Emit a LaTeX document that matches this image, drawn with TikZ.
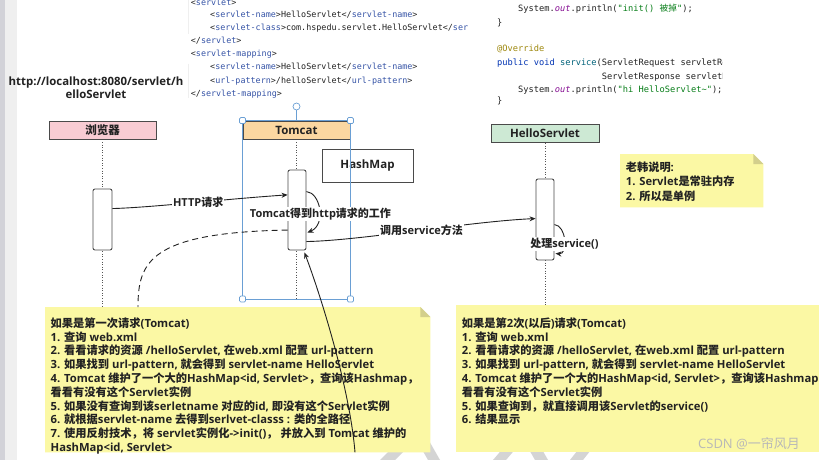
\documentclass[tikz,border=0pt]{standalone}
\usepackage{fontspec}
\setmainfont{Open Sans}
\setmonofont{DejaVu Sans Mono}
\newfontfamily\cjkfont{Noto Sans CJK SC}
\usetikzlibrary{arrows.meta}
% route CJK characters to the CJK font
\newXeTeXintercharclass\mycjkcls
\newcount\mycjkcnt
\def\setcjkrange#1#2{\mycjkcnt=#1\relax\loop\XeTeXcharclass\mycjkcnt=\mycjkcls\relax\ifnum\mycjkcnt<#2\advance\mycjkcnt by 1\repeat}
\setcjkrange{"4E00}{"9FFF}
\setcjkrange{"3000}{"303F}
\setcjkrange{"FF00}{"FFEF}
\makeatletter
\XeTeXinterchartoks 0 \mycjkcls = {\begingroup\cjkfont}
\XeTeXinterchartoks \mycjkcls 0 = {\endgroup}
\XeTeXinterchartoks \e@alloc@intercharclass@top \mycjkcls = {\begingroup\cjkfont}
\XeTeXinterchartoks \mycjkcls \e@alloc@intercharclass@top = {\endgroup}
\makeatother
\XeTeXinterchartokenstate=1

\definecolor{txt}{HTML}{222222}
\definecolor{edgec}{HTML}{4A4A4A}
\definecolor{lifec}{HTML}{555555}
\definecolor{pinkc}{HTML}{F8CCD3}
\definecolor{orangec}{HTML}{FBD7A1}
\definecolor{greenc}{HTML}{CDE9D4}
\definecolor{selc}{HTML}{6A9FD4}
\definecolor{notec}{HTML}{FBF8A4}
\definecolor{foldc}{HTML}{D3CF8C}
\definecolor{tagc}{HTML}{3553A6}
\definecolor{kwc}{HTML}{0033B3}
\definecolor{fnc}{HTML}{00627A}
\definecolor{outc}{HTML}{871094}
\definecolor{strc}{HTML}{067D17}
\definecolor{annc}{HTML}{9E880D}
\definecolor{wmc}{HTML}{B8B8B8}
\definecolor{stripa}{HTML}{D2D2D8}
\definecolor{stripb}{HTML}{EFEFEF}
\definecolor{wmark}{HTML}{D4D4D4}

\newcommand{\xo}[1]{<\textcolor{tagc}{#1}>}
\newcommand{\xc}[1]{</\textcolor{tagc}{#1}>}

\pgfdeclarelayer{back}
\pgfdeclarelayer{notes}
\pgfdeclarelayer{lines}
\pgfsetlayers{back,notes,lines,main}

\tikzset{
  head/.style={draw=edgec, line width=0.9pt, minimum width=107pt, minimum height=18pt, inner sep=0pt,
    font=\bfseries\fontsize{11.5}{13}\selectfont, text=txt},
  act/.style={draw=edgec, fill=white, rounded corners=2pt, line width=0.9pt, inner sep=0pt},
  lifeline/.style={draw=lifec, line width=0.8pt, dash pattern=on 1pt off 1.6pt},
  msg/.style={draw=txt, line width=0.9pt, -{Stealth[length=6pt,width=5pt]}},
  dashline/.style={draw=txt, line width=0.9pt, dash pattern=on 6pt off 4pt},
  lbl/.style={fill=white, inner sep=1pt, font=\bfseries\fontsize{11}{13}\selectfont, text=txt},
  notebox/.style={anchor=north west, inner sep=0pt, draw=none},
  notetext/.style={anchor=north west, align=left, inner sep=0pt, font=\bfseries\fontsize{11.25}{13.8}\selectfont, text=txt},
  codel/.style={anchor=base west, inner sep=0pt, font=\ttfamily\fontsize{8.4}{10}\selectfont, text=txt},
  coder/.style={anchor=base west, inner sep=0pt, font=\ttfamily\fontsize{8.7}{10}\selectfont, text=txt},
  handlebox/.style={draw=selc, fill=white, line width=0.7pt, rounded corners=1.2pt, minimum size=6pt, inner sep=0pt},
}

\begin{document}
\begin{tikzpicture}[x=1pt,y=-1pt]
\useasboundingbox (0,0) rectangle (819,460);
\clip (0,0) rectangle (819,460);

\begin{pgfonlayer}{back}
  \fill[white] (0,0) rectangle (819,460);
  \fill[stripa] (0,0) rectangle (5,460);
  \fill[stripb] (5,0) rectangle (17,460);
  \fill[wmark] (380,460) -- (395,460) -- (425,430) -- (410,430) -- cycle;
  \fill[wmark] (412,432) -- (424,432) -- (440,460) -- (428,460) -- cycle;
  \fill[wmark] (493,460) -- (506,460) -- (518,446) -- (505,446) -- cycle;
  \fill[wmark] (527,446) -- (540,446) -- (548,460) -- (535,460) -- cycle;
  \fill[wmark] (570,460) -- (583,460) -- (594,446) -- (581,446) -- cycle;
  \draw[stripb, line width=0.8pt] (188,0) -- (188,34);
  \draw[stripb, line width=0.8pt] (188,64) -- (188,98);
\end{pgfonlayer}

% code snippets
\begin{scope}
\clip (180,0) rectangle (469,110);
\node[codel] (c1) at (190.7,5.5) {\xo{servlet}};
\node[codel] (c2) at (210,18) {\xo{servlet-name}HelloServlet\xc{servlet-name}};
\node[codel] (c3) at (210,31) {\xo{servlet-class}com.hspedu.servlet.HelloServlet</\textcolor{tagc}{ser}};
\node[codel] (c4) at (190.7,44) {\xc{servlet}};
\node[codel] (c5) at (190.7,57) {\xo{servlet-mapping}};
\node[codel] (c6) at (210,70) {\xo{servlet-name}HelloServlet\xc{servlet-name}};
\node[codel] (c7) at (210,83) {\xo{url-pattern}/helloServlet\xc{url-pattern}};
\node[codel] (c8) at (190.7,96) {\xc{servlet-mapping}};
\end{scope}
\begin{scope}
\clip (490,0) rectangle (722.5,110);
\node[coder] (r1) at (518,11.8) {System.\textcolor{outc}{\itshape out}.println(\textcolor{strc}{"init() 被掉"});};
\node[coder] (r2) at (497,25.5) {\}};
\node[coder] (r3) at (497,51.3) {\textcolor{annc}{@Override}};
\node[coder] (r4) at (497,65.3) {\textcolor{kwc}{public void} \textcolor{fnc}{service}(ServletRequest servletRe};
\node[coder] (r5) at (601.7,79) {ServletResponse servletRe};
\node[coder] (r6) at (518,92.3) {System.\textcolor{outc}{\itshape out}.println(\textcolor{strc}{"hi HelloServlet\textasciitilde"});};
\node[coder] (r7) at (497,103) {\}};
\end{scope}

% url
\node[align=center, inner sep=0pt, font=\bfseries\fontsize{11.4}{13}\selectfont, text=txt] (url) at (96,87.5) {http://localhost:8080/servlet/h\\elloServlet};

% heads
\node[head, fill=pinkc] (bhead) at (102.5,130) {浏览器};
\node[head, fill=orangec] (thead) at (296.5,130) {Tomcat};
\node[head, fill=greenc, minimum width=108pt, minimum height=18.7pt] (hhead) at (545,133.3) {HelloServlet};

% activations
\node[act, minimum width=19pt, minimum height=61pt] (bact) at (102.5,219.5) {};
\node[act, minimum width=18pt, minimum height=80pt] (tact) at (297,210) {};
\node[act, minimum width=18pt, minimum height=81pt] (hact) at (545,219.5) {};

% hashmap
\node[draw=edgec, line width=0.9pt, minimum width=91pt, minimum height=33pt, inner sep=0pt,
  font=\bfseries\fontsize{11.5}{13}\selectfont, text=txt] (hash) at (367.5,165.5) {HashMap};

% notes
\node[notebox, minimum width=385pt, minimum height=145pt] (n1) at (45,307) {};
\node[notebox, minimum width=380pt, minimum height=147pt] (n2) at (456,305) {};
\node[notebox, minimum width=143pt, minimum height=53pt] (n3) at (620,154) {};
\begin{pgfonlayer}{notes}
  \fill[notec] (n1.north west) -- ([xshift=-10pt]n1.north east) -- ([yshift=-10pt]n1.north east) -- (n1.south east) -- (n1.south west) -- cycle;
  \fill[foldc] ([xshift=-10pt]n1.north east) -- ([yshift=-10pt]n1.north east) -- ([xshift=-10pt,yshift=-10pt]n1.north east) -- cycle;
  \fill[notec] (n2.north west) rectangle (n2.south east);
  \fill[notec] (n3.north west) -- ([xshift=-10pt]n3.north east) -- ([yshift=-10pt]n3.north east) -- (n3.south east) -- (n3.south west) -- cycle;
  \fill[foldc] ([xshift=-10pt]n3.north east) -- ([yshift=-10pt]n3.north east) -- ([xshift=-10pt,yshift=-10pt]n3.north east) -- cycle;
\end{pgfonlayer}

\node[notetext] (t1) at (50.5,317.3) {如果是第一次请求(Tomcat)\\
1. 查询 web.xml\\
2. 看看请求的资源 /helloServlet, 在web.xml 配置 url-pattern\\
3. 如果找到 url-pattern, 就会得到 servlet-name HelloServlet\\
4. Tomcat 维护了一个大的HashMap<id, Servlet>，查询该Hashmap，\\
看看有没有这个Servlet实例\\
5. 如果没有查询到该serletname 对应的id, 即没有这个Servlet实例\\
6. 就根据servlet-name 去得到serlvet-classs : 类的全路径\\
7. 使用反射技术，将 servlet实例化->init()，  并放入到 Tomcat 维护的\\
HashMap<id, Servlet>};

\node[notetext] (t2) at (461.7,317.3) {如果是第2次(以后)请求(Tomcat)\\
1. 查询 web.xml\\
2. 看看请求的资源 /helloServlet, 在web.xml 配置 url-pattern\\
3. 如果找到 url-pattern, 就会得到 servlet-name HelloServlet\\
4. Tomcat 维护了一个大的HashMap<id, Servlet>，查询该Hashmap\\
看看有没有这个Servlet实例\\
5. 如果查询到，就直接调用该Servlet的service()\\
6. 结果显示};

\node[notetext, font=\bfseries\fontsize{11.2}{14.5}\selectfont] (t3) at (625.7,161.5) {老韩说明:\\
1. Servlet是常驻内存\\
2. 所以是单例};

% lifelines
\coordinate (bend) at (102.5,307);
\coordinate (tend) at (296.5,299);
\coordinate (hend) at (545,305);
\begin{pgfonlayer}{lines}
  \draw[lifeline] (bhead.south) -- (bend);
  \draw[lifeline] (thead.south) -- (tend);
  \draw[lifeline] (hhead.south) -- (hend);
\end{pgfonlayer}

% selection frame
\draw[selc, line width=0.8pt] (thead.north west) rectangle (thead.east |- tend);
\node[circle, draw=selc, fill=white, line width=0.7pt, minimum size=7pt, inner sep=0pt] (hdtop) at (296.5,106.5) {};
\draw[selc, line width=0.8pt] (hdtop.south) -- (thead.north);
\node[handlebox] (hd1) at (thead.north west) {};
\node[handlebox] (hd2) at (thead.north east) {};
\node[handlebox] (hd3) at (thead.west |- tend) {};
\node[handlebox] (hd4) at (thead.east |- tend) {};

% messages
\draw[msg] ([yshift=-20pt]bact.north east) .. controls +(38,-1) and +(-63,4.3) .. ([yshift=-25.3pt]tact.north west)
  node[lbl, pos=0.54] (lhttp) {HTTP请求};
\draw[msg] ([yshift=-22pt]tact.north east) .. controls +(14,1) and +(19,-8) .. ([xshift=1pt,yshift=-63pt]tact.north east);
\node[lbl] (ltom) at ([xshift=14pt,yshift=-4pt]tact.east) {Tomcat得到http请求的工作};
\draw[msg] ([yshift=-72pt]tact.north east) .. controls +(54,-1) and +(-66,3) .. ([yshift=-40pt]hact.north west)
  node[lbl, pos=0.52] (lcall) {调用service方法};
\draw[msg] ([yshift=-46pt]hact.north east) .. controls +(12,1) and +(13,1) .. ([xshift=1pt,yshift=-75pt]hact.north east);
\node[lbl] (lproc) at ([xshift=10pt,yshift=-24.5pt]hact.east) {处理service()};
\draw[dashline] ([yshift=-60.5pt]tact.north west) .. controls +(-138,2.5) and +(0,-45) .. ([xshift=93pt]n1.north west);
\draw[msg] ([xshift=310pt]n1.south west) .. controls +(-5,-62) and +(18,48) .. ([xshift=-2pt,yshift=-2pt]tact.south east);

% watermark
\node[inner sep=0pt, font=\fontsize{13}{13}\selectfont, text=wmc] (csdn) at (749,444) {CSDN @一帘风月};
\end{tikzpicture}
\end{document}
